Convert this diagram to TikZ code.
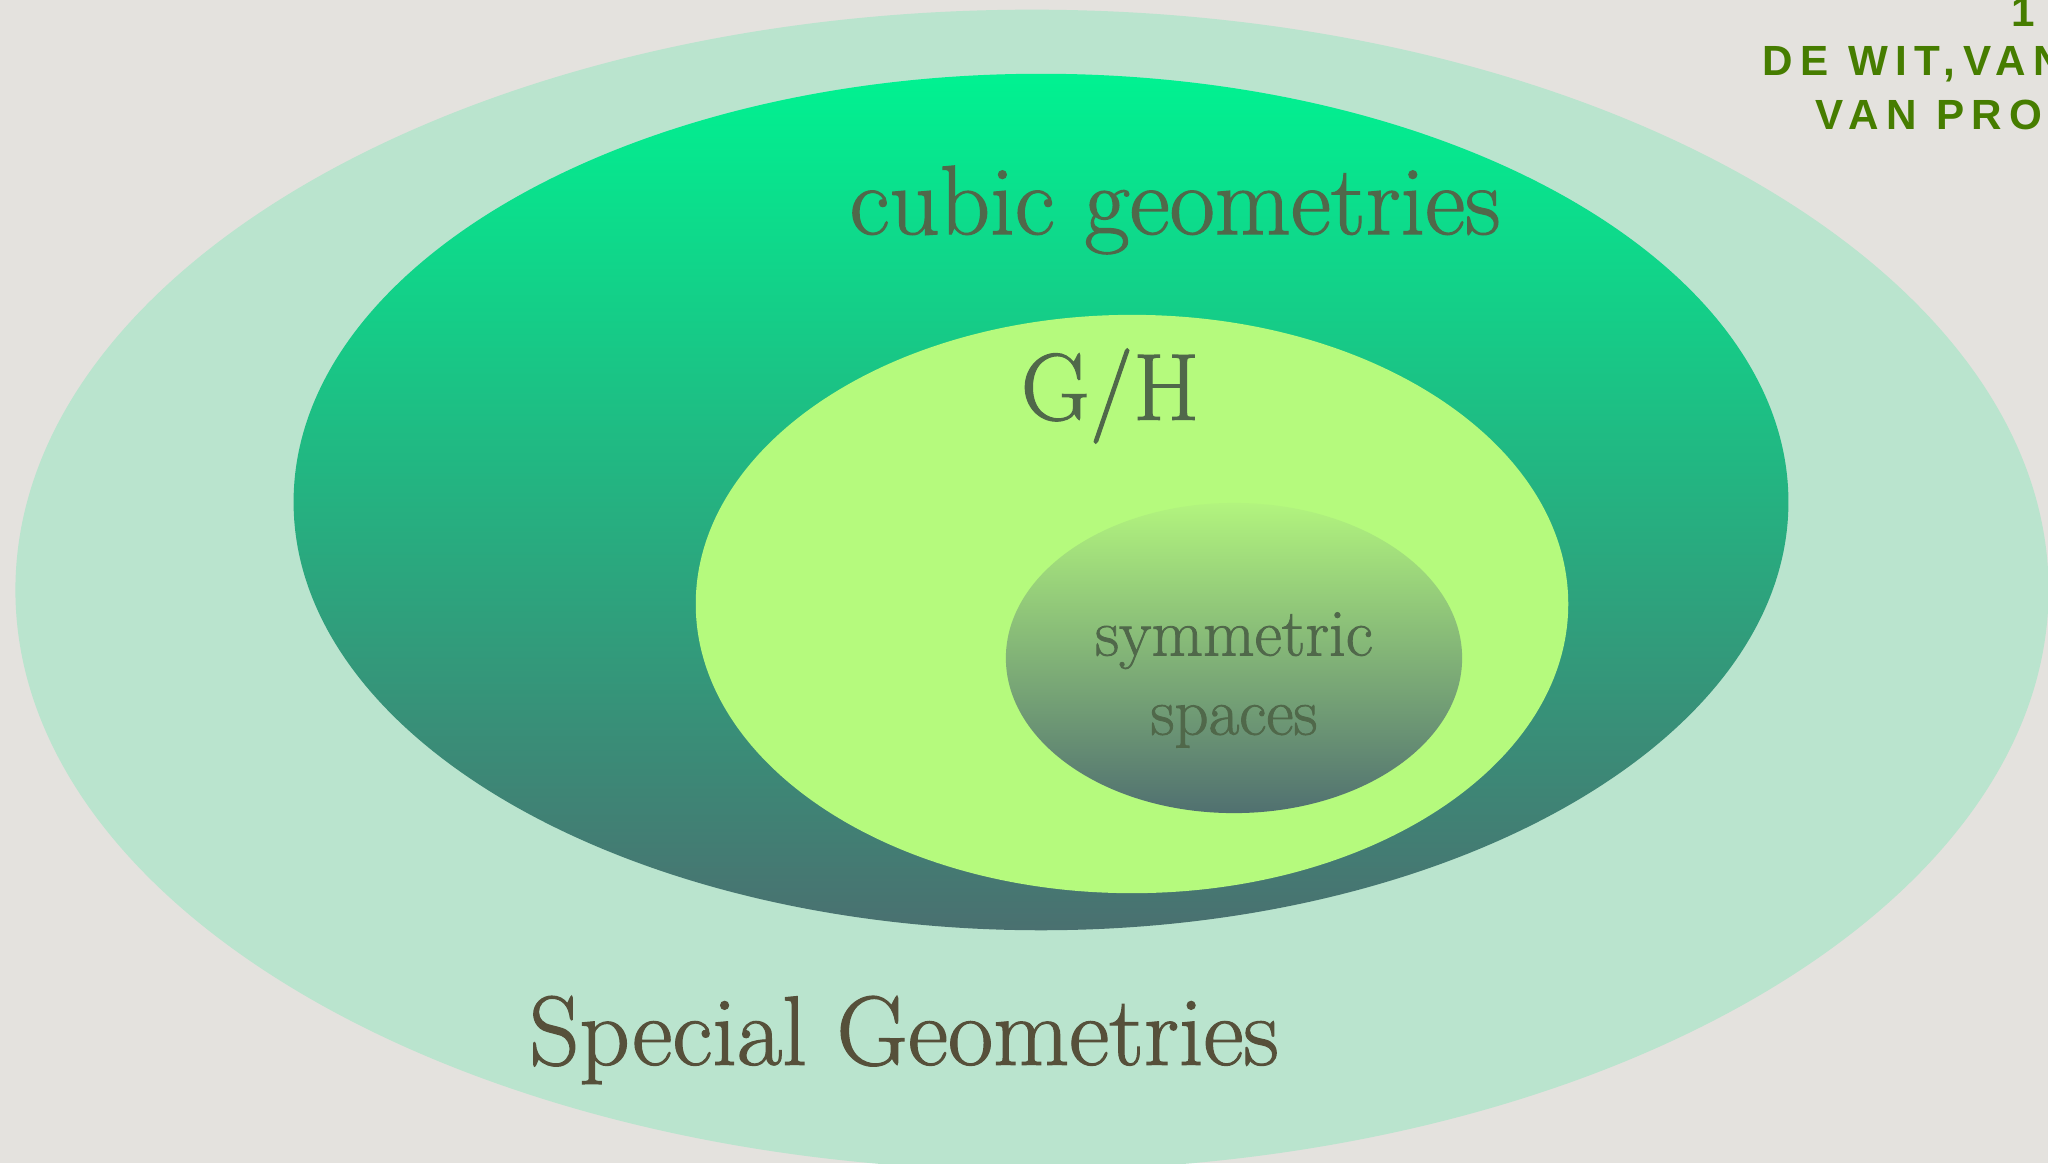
\documentclass[tikz,border=0pt]{standalone}
\usepackage{fontspec}
\usepackage{xcolor}
\usetikzlibrary{shapes.geometric, positioning}
\newfontfamily\creditfont[LetterSpace=18]{Liberation Sans Bold}
\newfontfamily\setfont[FakeBold=1.2]{Latin Modern Roman}

\definecolor{paper}{RGB}{228,226,222}
\definecolor{outerset}{RGB}{186,228,206}
\definecolor{cubictop}{RGB}{0,242,145}
\definecolor{cubicmid}{RGB}{30,184,130}
\definecolor{cubicbot}{RGB}{74,112,112}
\definecolor{ghfill}{RGB}{181,250,125}
\definecolor{symtop}{RGB}{178,244,126}
\definecolor{symbot}{RGB}{80,112,112}
\definecolor{labelgreen}{RGB}{80,104,74}
\definecolor{labelbrown}{RGB}{86,80,58}
\definecolor{creditgreen}{RGB}{70,125,0}

\tikzset{
  setshape/.style={ellipse, inner sep=0pt, draw=none},
  biglabel/.style={font=\setfont\fontsize{28}{32}\selectfont, text=labelgreen},
  credit/.style={font=\creditfont\fontsize{12}{14}\selectfont, text=creditgreen, inner sep=0pt}
}

\begin{document}
\begin{tikzpicture}[x=0.01cm, y=-0.01cm]
    \useasboundingbox (0,0) rectangle (2048,1163);
    \fill[paper] (0,0) rectangle (2048,1163);
    \begin{scope}
    \clip (0,0) rectangle (2048,1163);

    % Sets, from outside in
    \node[setshape, fill=outerset, minimum width=20.32cm, minimum height=11.6cm] (special) at (1032,590) {};
    \node[setshape, top color=cubictop, middle color=cubicmid, bottom color=cubicbot,
          minimum width=14.94cm, minimum height=8.56cm] (cubic) at (1041,502) {};
    \node[setshape, fill=ghfill, minimum width=8.72cm, minimum height=5.78cm] (gh) at (1132,604) {};
    \node[setshape, top color=symtop, bottom color=symbot,
          minimum width=4.56cm, minimum height=3.1cm] (sym) at (1234,658) {};

    % Labels
    \node[biglabel] (cubiclabel) at (1175,210) {cubic geometries};
    \node[biglabel, font=\setfont\fontsize{27}{32}\selectfont] (ghlabel) at (1110,396) {G/H};
    \node[font=\setfont\fontsize{19}{22.5}\selectfont, text=labelgreen, align=center] (symlabel) at (1234,680) {symmetric\\spaces};
    \node[biglabel, text=labelbrown] (speciallabel) at (904,1040) {Special Geometries};

    % Reference, cut at the border
    \node[credit, anchor=north east] (year) at (2036,-3) {1};
    \node[credit, anchor=west] (authors) at (1762,64) {DE WIT,VAN};
    \node[credit, anchor=west] (authorsb) at (1815,115) {VAN PRO};
    \end{scope}
\end{tikzpicture}
\end{document}
